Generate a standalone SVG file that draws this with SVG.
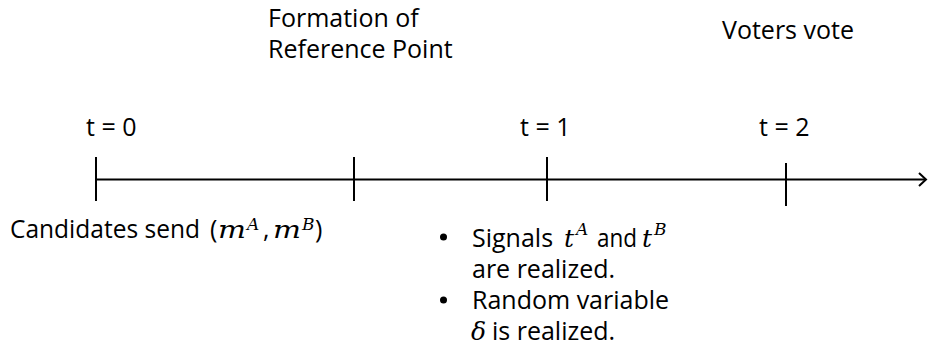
<svg xmlns="http://www.w3.org/2000/svg" width="929" height="362" viewBox="0 0 929 362">
<style>
text{font-family:"Open Sans",Lato,sans-serif;font-size:25px;fill:#000}
.m{font-family:"DejaVu Serif",serif;font-style:italic;font-size:25px}
.s{font-family:"DejaVu Serif",serif;font-style:italic;font-size:17px}
line{stroke:#000;stroke-width:2}
</style>
<rect width="929" height="362" fill="#fff"/>
<g id="connectors">
<line x1="96" y1="179.5" x2="926" y2="179.5"/>
<polyline points="919,173 926,179.5 919,186" fill="none" stroke="#000" stroke-width="2"/>
</g>
<g id="tick0"><line x1="96" y1="157" x2="96" y2="201"/><text x="86" y="136">t = 0</text></g>
<g id="tickRef"><line x1="354" y1="157" x2="354" y2="201"/><text x="268" y="27">Formation of</text><text x="268" y="58">Reference Point</text></g>
<g id="tick1"><line x1="547" y1="157" x2="547" y2="201"/><text x="520" y="136">t = 1</text></g>
<g id="tick2"><line x1="786" y1="163" x2="786" y2="206"/><text x="759" y="136">t = 2</text><text x="722" y="39">Voters vote</text></g>
<g id="candidates">
<text x="10" y="238" textLength="190" lengthAdjust="spacingAndGlyphs">Candidates send</text>
<text x="210" y="238">(</text>
<text class="m" x="218" y="238" textLength="28" lengthAdjust="spacingAndGlyphs">m</text>
<text class="s" x="247" y="230">A</text>
<text x="263" y="238">,</text>
<text class="m" x="273" y="238" textLength="28" lengthAdjust="spacingAndGlyphs">m</text>
<text class="s" x="302" y="230">B</text>
<text x="315" y="238">)</text>
</g>
<g id="events">
<circle cx="443.5" cy="237" r="3.5"/>
<text x="472" y="247">Signals</text>
<text class="m" x="564" y="247">t</text>
<text class="s" x="576" y="235">A</text>
<text x="597" y="247" textLength="40" lengthAdjust="spacingAndGlyphs">and</text>
<text class="m" x="642" y="247">t</text>
<text class="s" x="654" y="235">B</text>
<text x="472" y="278">are realized.</text>
<circle cx="443.5" cy="300" r="3.5"/>
<text x="472" y="309">Random variable</text>
<text class="m" x="471" y="340">δ</text>
<text x="492" y="340">is realized.</text>
</g>
</svg>
